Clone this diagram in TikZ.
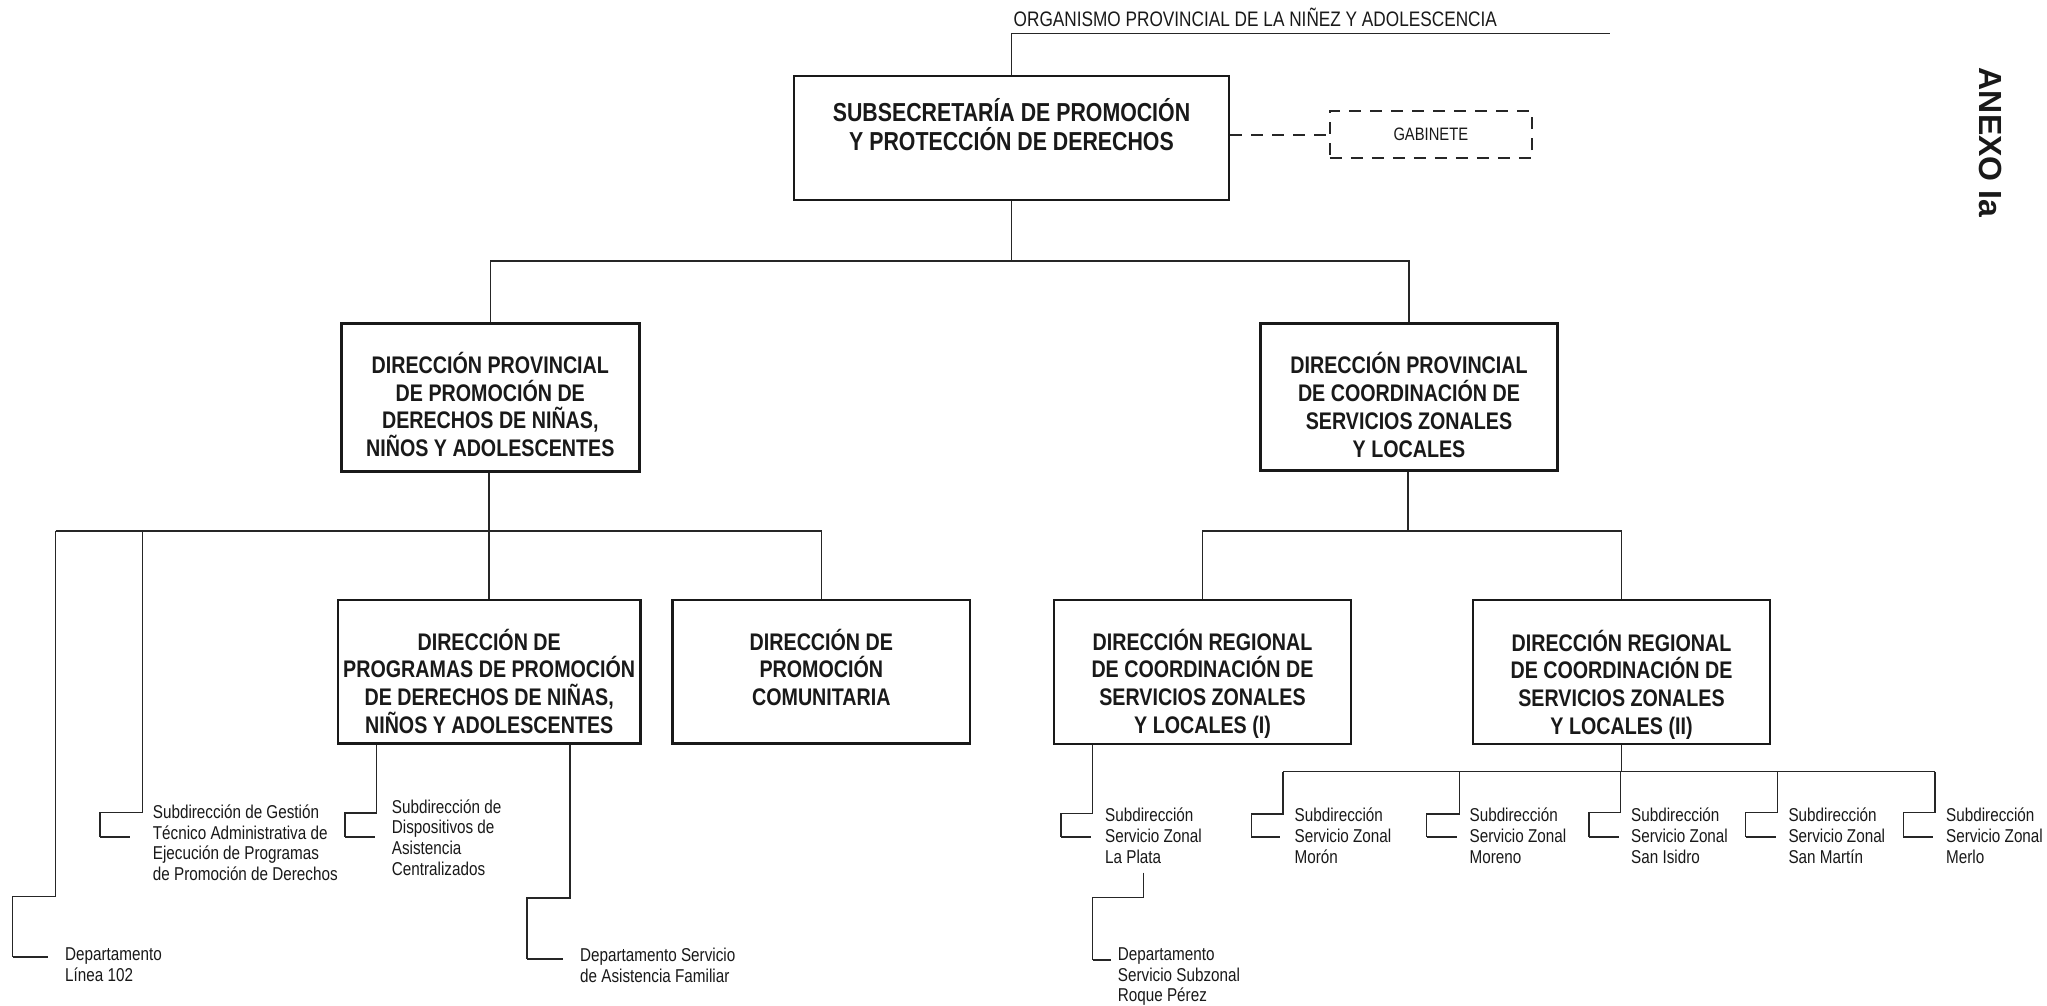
\documentclass[tikz,border=0pt]{standalone}
\usepackage{fontspec}
\setmainfont{Liberation Sans}[FakeStretch=0.82]
\newfontfamily\widefont{Liberation Sans}
\newcommand\brk[6]{\draw[ln] (#1) -- (#2,#3) -- (#4,#3) -- (#4,#5); \draw[thk] (#4,#5) -- (#6,#5);}
\begin{document}
\begin{tikzpicture}[x=1pt,y=-1pt,
  ln/.style={line width=1.1pt, draw=black!85},
  thk/.style={line width=2pt, draw=black!85},
  dsh/.style={line width=2pt, draw=black!85, dash pattern=on 12pt off 9pt},
  box/.style={draw=black!90, line width=2.6pt, rectangle, inner sep=0pt, minimum width=297pt, minimum height=144pt},
  btxt/.style={align=center, inner sep=0pt, anchor=base, font=\bfseries\fontsize{24}{27.7}\selectfont, text=black!90},
  stxt/.style={align=left, inner sep=0pt, anchor=base west, font=\fontsize{18.6}{20.8}\selectfont, text=black!90},
]
\useasboundingbox[fill=white] (0,0) rectangle (2047,1005);

% top
\node[box, minimum width=435pt, minimum height=124pt] (sub) at (1011.5,138) {};
\node[btxt, font=\bfseries\fontsize{26}{29}\selectfont] (subt) at (1011.5,150.7) {SUBSECRETARÍA DE PROMOCIÓN\\Y PROTECCIÓN DE DERECHOS};
\coordinate (orgR) at (1609.5,33.3);
\node[inner sep=0pt, anchor=base west, font=\fontsize{21}{24}\selectfont, text=black!90] (org) at (1013.5,26.7) {ORGANISMO PROVINCIAL DE LA NIÑEZ Y ADOLESCENCIA};
\draw[ln] (sub.north) |- (orgR);

\node[dsh, rectangle, minimum width=202pt, minimum height=47pt, inner sep=0pt, font=\fontsize{18}{20}\selectfont, text=black!90] (gab) at (1430.8,134.7) {GABINETE};
\draw[dsh] (sub.east |- gab.west) -- (gab.west);

\node[rotate=-90, inner sep=0pt, font=\widefont\bfseries\fontsize{32}{35}\selectfont, text=black!90] (anx) at (1990.5,142.5) {ANEXO Ia};

% level 2
\node[box, minimum width=298pt, minimum height=148pt] (dpp) at (490.3,397.2) {};
\node[btxt] (dppt) at (490.3,456.4) {DIRECCIÓN PROVINCIAL\\DE PROMOCIÓN DE\\DERECHOS DE NIÑAS,\\NIÑOS Y ADOLESCENTES};
\node[box, minimum width=297pt, minimum height=147pt] (dpc) at (1409,396.7) {};
\node[btxt] (dpct) at (1409,457) {DIRECCIÓN PROVINCIAL\\DE COORDINACIÓN DE\\SERVICIOS ZONALES\\Y LOCALES};
\coordinate (tb) at (1011.5,261);
\draw[ln] (sub.south) -- (tb);
\draw[ln] (dpp.north) |- (tb) -| (dpc.north);

% level 3
\node[box, minimum width=302.6pt, minimum height=143.3pt] (dprog) at (489.2,671.7) {};
\node[btxt] (dprogt) at (489.2,733.1) {DIRECCIÓN DE\\PROGRAMAS DE PROMOCIÓN\\DE DERECHOS DE NIÑAS,\\NIÑOS Y ADOLESCENTES};
\node[box, minimum width=297.3pt, minimum height=143.3pt] (dcom) at (821.35,671.7) {};
\node[btxt] (dcomt) at (821.35,705.4) {DIRECCIÓN DE\\PROMOCIÓN\\COMUNITARIA};
\node[box, minimum width=297pt, minimum height=144pt] (dr1) at (1202.5,672) {};
\node[btxt] (dr1t) at (1202.5,733.1) {DIRECCIÓN REGIONAL\\DE COORDINACIÓN DE\\SERVICIOS ZONALES\\Y LOCALES (I)};
\node[box, minimum width=297pt, minimum height=144pt] (dr2) at (1621.5,672) {};
\node[btxt] (dr2t) at (1621.5,734.1) {DIRECCIÓN REGIONAL\\DE COORDINACIÓN DE\\SERVICIOS ZONALES\\Y LOCALES (II)};

% left bar
\coordinate (lb) at (489,531);
\coordinate (barL) at (55.7,531);
\draw[ln] (dpp.south -| lb) -- (dprog.north -| lb);
\draw[ln] (barL) -- (barL -| dcom.north) -- (dcom.north);
% right bar
\coordinate (rb) at (1408,531);
\draw[ln] (dpc.south -| rb) -- (rb);
\draw[ln] (dr1.north) |- (rb) -| (dr2.north);

% left branches
\node[stxt] (l102) at (65,981.3) {Departamento\\Línea 102};
\brk{barL}{55.7}{896.7}{12.7}{957}{48}
\coordinate (g0) at (142.7,531);
\node[stxt] (gest) at (152.7,880.7) {Subdirección de Gestión\\Técnico Administrativa de\\Ejecución de Programas\\de Promoción de Derechos};
\brk{g0}{142.7}{812.7}{100}{836.7}{130}

% dprog branches
\coordinate (d0) at (376.7,743.3);
\node[stxt] (disp) at (391.7,875.4) {Subdirección de\\Dispositivos de\\Asistencia\\Centralizados};
\brk{dprog.south -| d0}{376.7}{813}{345}{836.7}{375}
\coordinate (f0) at (570,743.3);
\node[stxt] (fam) at (580,982.5) {Departamento Servicio\\de Asistencia Familiar};
\brk{dprog.south -| f0}{570}{898}{527}{959}{562.7}

% dr1 branches
\coordinate (p0) at (1092.8,744);
\node[stxt] (lp) at (1105,863.3) {Subdirección\\Servicio Zonal\\La Plata};
\brk{dr1.south -| p0}{1092.8}{813.3}{1061}{837.3}{1091}
\coordinate (r0) at (1143.3,872.7);
\node[stxt] (rp) at (1117.7,1001.8) {Departamento\\Servicio Subzonal\\Roque Pérez};
\brk{r0}{1143.3}{897.3}{1092.8}{960}{1110.8}

% dr2 branches
\coordinate (barR1) at (1283,771.7);
\coordinate (barR2) at (1935,771.7);
\draw[ln] (dr2.south) -- (dr2.south |- barR1);
\draw[ln] (barR1) -- (barR2);
\node[stxt] (mor) at (1294.5,863.3) {Subdirección\\Servicio Zonal\\Morón};
\brk{barR1}{1283}{814}{1251.3}{837.3}{1280}
\coordinate (m0) at (1459.8,771.7);
\node[stxt] (mrn) at (1469.4,863.3) {Subdirección\\Servicio Zonal\\Moreno};
\brk{m0}{1459.8}{814}{1426.5}{836.5}{1457}
\coordinate (s0) at (1620.7,771.7);
\node[stxt] (sis) at (1631,863.3) {Subdirección\\Servicio Zonal\\San Isidro};
\brk{s0}{1620.7}{812.5}{1589}{836.7}{1619}
\coordinate (sm0) at (1777.5,771.7);
\node[stxt] (smt) at (1788.3,863.3) {Subdirección\\Servicio Zonal\\San Martín};
\brk{sm0}{1777.5}{812.5}{1745.7}{836.7}{1776}
\node[stxt] (mer) at (1946,863.3) {Subdirección\\Servicio Zonal\\Merlo};
\brk{barR2}{1935}{812.5}{1903.3}{836.7}{1932.7}
\end{tikzpicture}
\end{document}
